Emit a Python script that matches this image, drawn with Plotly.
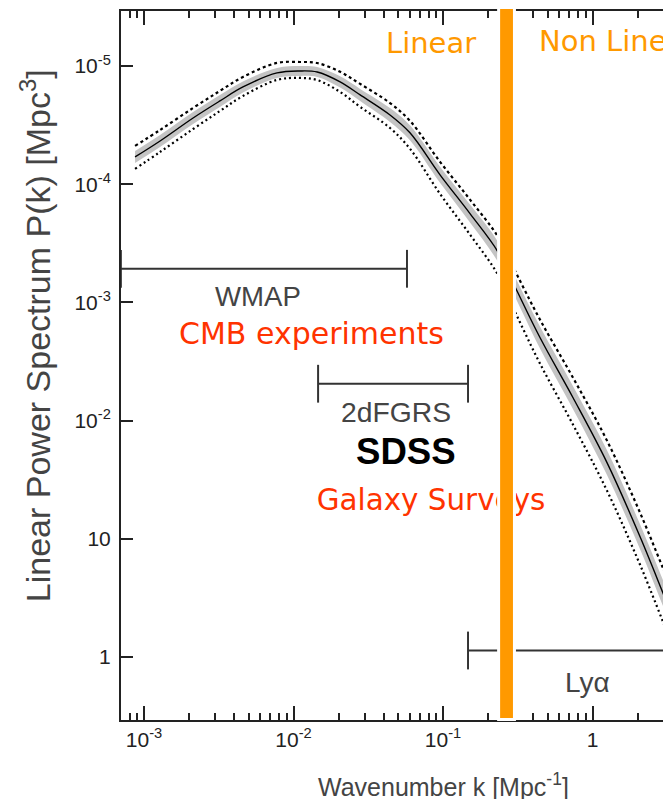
import plotly.graph_objects as go

# central P(k) curve
k = [8.71e-4, 1.28e-3, 2.13e-3, 3.22e-3, 4.59e-3, 7.76e-3, 1.10e-2, 1.44e-2, 2.05e-2, 2.79e-2, 4.42e-2,
     6.01e-2, 9.55e-2, 0.152, 0.233, 0.303, 0.446, 0.741, 1.25, 2.08, 3.35, 3.98]
pk = [17000, 23200, 36300, 50600, 66400, 87300, 90700, 88900, 73300, 56900, 38500,
      27200, 12000, 5610, 2680, 1355, 502, 156, 44.1, 10.4, 2.38, 1.46]
# spread of the grey band and of the dotted curves, in dex
band_dex = [0.051, 0.051, 0.051, 0.051, 0.047, 0.042, 0.042, 0.042, 0.047, 0.051, 0.059,
            0.063, 0.068, 0.076, 0.085, 0.085, 0.093, 0.097, 0.105, 0.105, 0.110, 0.110]
up_dex = [0.093, 0.093, 0.085, 0.085, 0.085, 0.085, 0.076, 0.076, 0.085, 0.093, 0.101,
          0.101, 0.110, 0.118, 0.127, 0.135, 0.152, 0.169, 0.186, 0.203, 0.211, 0.211]
lo_dex = [0.101, 0.093, 0.093, 0.085, 0.076, 0.059, 0.059, 0.068, 0.085, 0.101, 0.110,
          0.135, 0.161, 0.178, 0.194, 0.211, 0.220, 0.228, 0.237, 0.237, 0.245, 0.245]

# survey coverage bars
survey_names = ["WMAP", "2dFGRS", "Lyα"]
survey_kmin = [7.0e-4, 0.0146, 0.147]
survey_kmax = [0.0574, 0.147, 10.0]
survey_level = [1924, 205, 1.135]

K_NL = 0.266  # linear / non linear boundary
BAR_HALF_DEX = 0.053  # half width of the orange bar (about 8 px)

x_tickvals = [1e-3, 1e-2, 1e-1, 1]
x_ticktext = ["10<sup>-3</sup>", "10<sup>-2</sup>", "10<sup>-1</sup>", "1"]
y_tickvals = [1e5, 1e4, 1e3, 1e2, 10, 1]
y_ticktext = ["10<sup>-5</sup>", "10<sup>-4</sup>", "10<sup>-3</sup>", "10<sup>-2</sup>", "10", "1"]

ORANGE = "#FF9900"
RED = "#FF3300"
INK = "#222222"
GREY_TXT = "#444444"
COMIC = "Comic Sans MS, DejaVu Sans, sans-serif"
ARIAL = "Arial, Liberation Sans, sans-serif"

band_hi = [p * 10 ** d for p, d in zip(pk, band_dex)]
band_lo = [p / 10 ** d for p, d in zip(pk, band_dex)]
p_up = [p * 10 ** d for p, d in zip(pk, up_dex)]
p_lo = [p / 10 ** d for p, d in zip(pk, lo_dex)]

fig = go.Figure()
fig.add_trace(go.Scatter(x=k, y=band_hi, mode="lines", line={"width": 0, "shape": "spline"},
                         showlegend=False, hoverinfo="skip"))
fig.add_trace(go.Scatter(x=k, y=band_lo, mode="lines", line={"width": 0, "shape": "spline"}, fill="tonexty",
                         fillcolor="#c4c4c4", showlegend=False, hoverinfo="skip"))
fig.add_trace(go.Scatter(x=k, y=p_up, mode="lines",
                         line={"color": "black", "width": 2.2, "dash": "3px,3px", "shape": "spline"},
                         showlegend=False))
fig.add_trace(go.Scatter(x=k, y=p_lo, mode="lines",
                         line={"color": "black", "width": 2.2, "dash": "2px,3px", "shape": "spline"},
                         showlegend=False))
fig.add_trace(go.Scatter(x=k, y=pk, mode="lines", line={"color": "black", "width": 1.4, "shape": "spline"},
                         showlegend=False))

for name, kmin, kmax, level in zip(survey_names, survey_kmin, survey_kmax, survey_level):
    fig.add_trace(go.Scatter(
        x=[kmin, kmax], y=[level, level], mode="lines+markers", name=name, showlegend=False,
        line={"color": "#333333", "width": 2},
        marker={"symbol": "line-ns", "size": 27, "line": {"color": "#333333", "width": 2}},
    ))

# drawn as a trace so the orange bar can sit on top of it, as in the original
fig.add_trace(go.Scatter(x=[0.0832], y=[20.2], mode="text", text=["Galaxy Surveys"],
                         textfont={"family": COMIC, "size": 29.4, "color": RED}, showlegend=False))

# orange boundary bar around K_NL
fig.add_shape(type="rect", xref="x", yref="paper",
              x0=K_NL / 10 ** BAR_HALF_DEX, x1=K_NL * 10 ** BAR_HALF_DEX,
              y0=0.0007, y1=1.0049, fillcolor=ORANGE,
              line={"color": "white", "width": 3}, layer="above")


def note(text, x, y, size, color, family, xanchor="center", **kw):
    fig.add_annotation(text=text, x=x, y=y, xref="paper", yref="paper", showarrow=False,
                       xanchor=xanchor, yanchor="middle",
                       font={"size": size, "color": color, "family": family}, **kw)


note("Linear", 0.5636, 0.9549, 29, ORANGE, COMIC)
note("Non Linear", 0.7564, 0.9577, 29, ORANGE, COMIC, xanchor="left")
note("WMAP", 0.2491, 0.598, 27.6, GREY_TXT, ARIAL)
note("CMB experiments", 0.3455, 0.5458, 30, RED, COMIC)
note("2dFGRS", 0.50, 0.4344, 28.3, GREY_TXT, ARIAL)
note("<b>SDSS</b>", 0.5182, 0.378, 36.6, "black", ARIAL)
note("Lyα", 0.8473, 0.0522, 28, GREY_TXT, ARIAL)
note("Wavenumber k [Mpc<sup>-1</sup>]", 0.5855, -0.0917, 25, GREY_TXT, ARIAL)
note("Linear Power Spectrum P(k) [Mpc<sup>3</sup>]", -0.156, 0.5416, 34, GREY_TXT, ARIAL, textangle=-90)

x_minor = [m * 10.0 ** e for e in range(-4, 1) for m in range(2, 10)]
fig.update_xaxes(
    type="log", range=[-3.154, 0.525], showgrid=False, zeroline=False, automargin=False,
    showline=True, linecolor=INK, linewidth=2, mirror="allticks",
    tickmode="array", tickvals=x_tickvals, ticktext=x_ticktext,
    ticks="inside", ticklen=14, tickwidth=1.5, tickcolor=INK,
    tickfont={"family": ARIAL, "size": 21, "color": INK},
    minor={"tickmode": "array", "tickvals": x_minor, "ticks": "inside", "ticklen": 7,
           "tickwidth": 1.5, "tickcolor": INK, "showgrid": False},
)
fig.update_yaxes(
    type="log", range=[-0.533, 5.465], showgrid=False, zeroline=False, automargin=False,
    showline=True, linecolor=INK, linewidth=2, mirror=False,
    tickmode="array", tickvals=y_tickvals, ticktext=y_ticktext,
    ticks="inside", ticklen=12, tickwidth=1.5, tickcolor=INK, ticklabelstandoff=4,
    tickfont={"family": ARIAL, "size": 21, "color": INK},
)
# the page body adds an 8 px margin, so the figure is 8 px smaller each way
fig.update_layout(
    width=663, height=791,
    margin={"l": 113, "r": 0, "t": 3, "b": 79, "autoexpand": False},
    paper_bgcolor="white", plot_bgcolor="white",
    showlegend=False,
)

fig.write_html("out.html")
